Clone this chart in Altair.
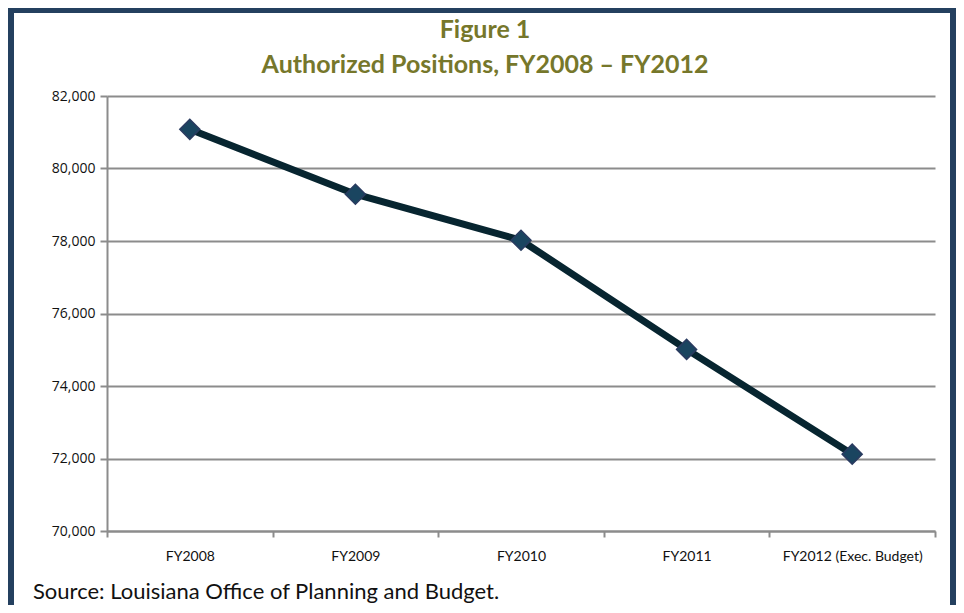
import altair as alt
import pandas as pd

years = ["FY2008", "FY2009", "FY2010", "FY2011", "FY2012 (Exec. Budget)"]
positions = [81080, 79290, 78020, 75010, 72120]
y_ticks = [70000, 72000, 74000, 76000, 78000, 80000, 82000]

title_line1 = "Figure 1"
title_line2 = "Authorized Positions, FY2008 \u2013 FY2012"
source_note = "Source: Louisiana Office of Planning and Budget."

df = pd.DataFrame({"year": years, "positions": positions})
one = pd.DataFrame({"k": [0]})

FONT = "Lato"
GRID = "#8c8c8c"
OLIVE = "#76772B"

x_enc = alt.X(
    "year:N",
    sort=years,
    bandPosition=0.5,
    scale=alt.Scale(type="band", paddingInner=0, paddingOuter=0),
    axis=alt.Axis(
        title=None,
        labelAngle=0,
        tickBand="extent",
        tickSize=6,
        tickWidth=2,
        tickColor=GRID,
        domainColor=GRID,
        domainWidth=2,
        labelFont=FONT,
        labelFontSize=14,
        labelColor="#111111",
        labelPadding=12,
        grid=False,
    ),
)
y_enc = alt.Y(
    "positions:Q",
    scale=alt.Scale(domain=[70000, 82000], nice=False, zero=False),
    axis=alt.Axis(
        title=None,
        values=y_ticks,
        format=",d",
        tickSize=7,
        tickWidth=2,
        tickColor=GRID,
        domainColor=GRID,
        domainWidth=2,
        gridColor=GRID,
        gridWidth=2,
        labelFont="Open Sans",
        labelFontSize=14,
        labelColor="#111111",
        labelPadding=5,
    ),
)

base = alt.Chart(df).encode(x=x_enc, y=y_enc)
line = base.mark_line(color="#072530", strokeWidth=7)
pts = base.mark_point(
    shape="diamond", size=400, filled=True, fill="#1a4560",
    stroke="#2a3b60", strokeWidth=1.5, opacity=1
)

frame = alt.Chart(one).mark_rect(
    fill=None, fillOpacity=0, stroke="#24405f", strokeWidth=6
).encode(
    x=alt.value(-96), x2=alt.value(846), y=alt.value(-86), y2=alt.value(540)
)

t1 = alt.Chart(one).mark_text(
    text=title_line1, font=FONT, fontSize=25, fontWeight="bold",
    color=OLIVE, align="center", baseline="alphabetic"
).encode(x=alt.value(378), y=alt.value(-58))
t2 = alt.Chart(one).mark_text(
    text=title_line2, font=FONT, fontSize=25, fontWeight="bold",
    color=OLIVE, align="center", baseline="alphabetic"
).encode(x=alt.value(378), y=alt.value(-23))
src = alt.Chart(one).mark_text(
    text=source_note, font=FONT, fontSize=22, color="#111111",
    align="left", baseline="alphabetic"
).encode(x=alt.value(-74), y=alt.value(503))

chart = alt.layer(frame, line, pts, t1, t2, src).properties(
    width=828,
    height=435,
    autosize=alt.AutoSizeParams(type="none"),
    padding={"left": 99, "top": 88, "right": 21, "bottom": 74},
    background="white",
).configure_view(stroke=None)

chart.save("out.html", embed_options={"renderer": "svg", "actions": False})
